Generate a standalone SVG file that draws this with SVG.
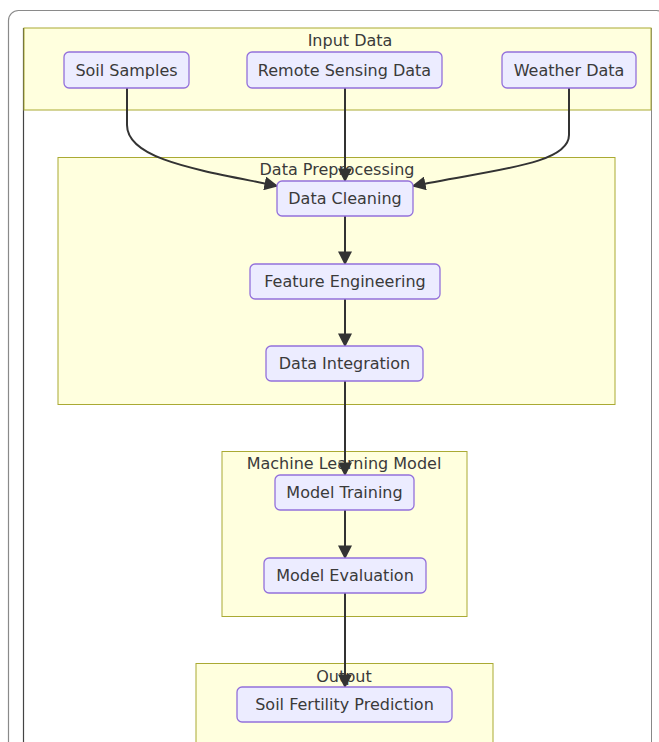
<svg xmlns="http://www.w3.org/2000/svg" width="659" height="742" viewBox="0 0 659 742">
<defs>
<style>
.cluster rect{fill:#ffffde;stroke:#aaaa33;stroke-width:1}
.node rect{fill:#ececff;stroke:#9370db;stroke-width:1.3}
text{font-family:"DejaVu Sans","Liberation Sans",sans-serif;font-size:16px;fill:#3a3a3a;text-anchor:middle;dominant-baseline:central}
.edge{fill:none;stroke:#333;stroke-width:2}
</style>
<marker id="arrow" viewBox="0 0 10 10" refX="9" refY="5" markerWidth="7" markerHeight="7" markerUnits="strokeWidth" orient="auto">
<path d="M0,0 L10,5 L0,10 z" fill="#333"/>
</marker>
</defs>
<rect x="0" y="0" width="659" height="742" fill="#fff"/>
<rect x="8.5" y="10.5" width="658" height="800" rx="10" fill="none" stroke="#8a8a8a" stroke-width="1.2"/>
<line x1="23.5" y1="28" x2="23.5" y2="742" stroke="#444" stroke-width="1.2"/>
<line x1="651.5" y1="28" x2="651.5" y2="742" stroke="#888" stroke-width="1"/>

<g id="cluster-input" class="cluster">
<rect x="24" y="28" width="627" height="82"/>
<text x="350" y="40">Input Data</text>
</g>
<g id="cluster-preprocessing" class="cluster">
<rect x="58" y="157.5" width="557" height="247"/>
<text x="337" y="169">Data Preprocessing</text>
</g>
<g id="cluster-ml" class="cluster">
<rect x="222" y="451.5" width="245" height="165"/>
<text x="344" y="463">Machine Learning Model</text>
</g>
<g id="cluster-output" class="cluster">
<rect x="196" y="663.5" width="297" height="100"/>
<text x="344" y="676">Output</text>
</g>

<g id="connectors">
<path class="edge" d="M127,88 L127,125 C127,160 200,170 277,186" marker-end="url(#arrow)"/>
<path class="edge" d="M345,88 L345,181" marker-end="url(#arrow)"/>
<path class="edge" d="M569,88 L569,135 C569,165 490,170 413,186" marker-end="url(#arrow)"/>
<path class="edge" d="M345,216 L345,264" marker-end="url(#arrow)"/>
<path class="edge" d="M345,299 L345,346" marker-end="url(#arrow)"/>
<path class="edge" d="M345,381 L345,475" marker-end="url(#arrow)"/>
<path class="edge" d="M345,510 L345,558" marker-end="url(#arrow)"/>
<path class="edge" d="M345,593 L345,687" marker-end="url(#arrow)"/>
</g>

<g id="node-soil-samples" class="node">
<rect x="64" y="52" width="125" height="36" rx="5"/>
<text x="126.5" y="70">Soil Samples</text>
</g>
<g id="node-remote-sensing" class="node">
<rect x="247" y="52" width="195" height="36" rx="5"/>
<text x="344.5" y="70">Remote Sensing Data</text>
</g>
<g id="node-weather" class="node">
<rect x="502" y="52" width="134" height="36" rx="5"/>
<text x="569" y="70">Weather Data</text>
</g>
<g id="node-data-cleaning" class="node">
<rect x="277" y="181" width="136" height="35" rx="5"/>
<text x="345" y="198.5">Data Cleaning</text>
</g>
<g id="node-feature-engineering" class="node">
<rect x="250" y="264" width="190" height="35" rx="5"/>
<text x="345" y="281.5">Feature Engineering</text>
</g>
<g id="node-data-integration" class="node">
<rect x="266" y="346" width="157" height="35" rx="5"/>
<text x="344.5" y="363.5">Data Integration</text>
</g>
<g id="node-model-training" class="node">
<rect x="275" y="475" width="139" height="35" rx="5"/>
<text x="344.5" y="492.5">Model Training</text>
</g>
<g id="node-model-evaluation" class="node">
<rect x="264" y="558" width="162" height="35" rx="5"/>
<text x="345" y="575.5">Model Evaluation</text>
</g>
<g id="node-soil-fertility" class="node">
<rect x="237" y="687" width="215" height="35" rx="5"/>
<text x="344.5" y="704.5">Soil Fertility Prediction</text>
</g>
</svg>
